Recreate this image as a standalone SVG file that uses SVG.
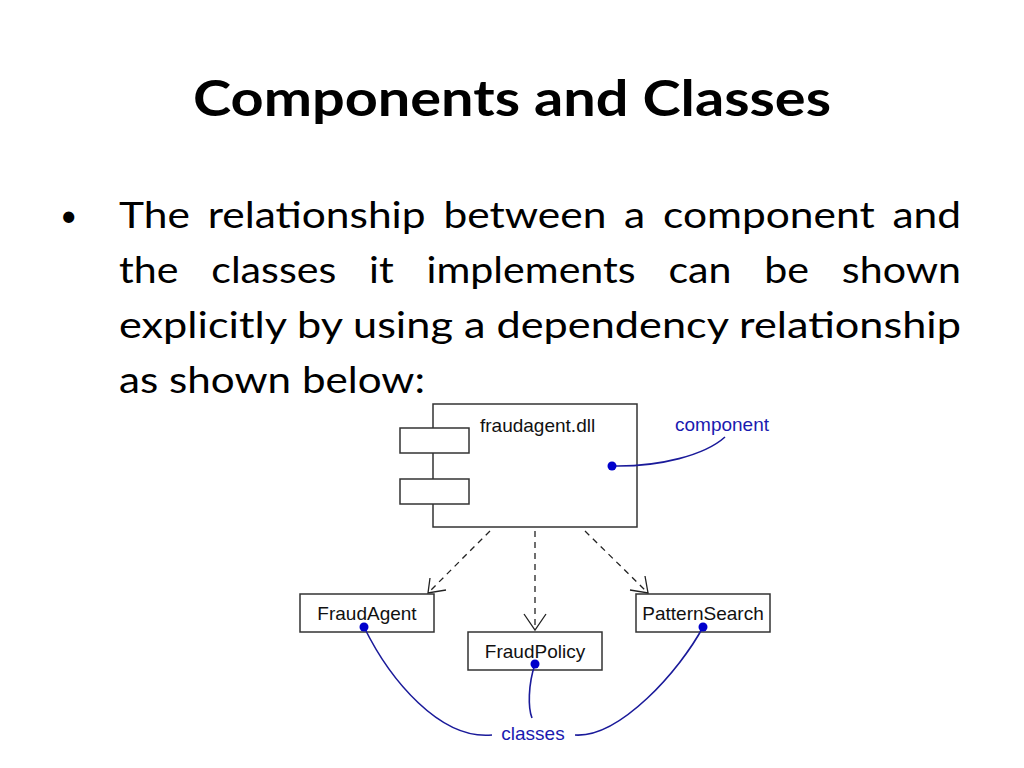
<svg xmlns="http://www.w3.org/2000/svg" width="1024" height="768" viewBox="0 0 1024 768">
<style>
.t{font-family:Lato,"Open Sans","Liberation Sans",sans-serif;fill:#000}
.b{fill:#fff;stroke:#333;stroke-width:1.5}
.n{font-family:"Liberation Sans",Arial,sans-serif;font-size:19px;fill:#111}
.bl{font-family:"Liberation Sans",Arial,sans-serif;font-size:19px;fill:#1a1ab0}
.dep{stroke:#222;stroke-width:1.3;fill:none;stroke-dasharray:6,5}
.ah{stroke:#222;stroke-width:1.3;fill:none}
.c{stroke:#1a1a9a;stroke-width:1.6;fill:none}
.d{fill:#0000cc}
</style>
<rect width="1024" height="768" fill="#fff"/>
<text class="t" x="512" y="116" text-anchor="middle" font-size="50" font-weight="bold" textLength="638" lengthAdjust="spacingAndGlyphs">Components and Classes</text>
<text class="t" x="60" y="226" font-size="30">•</text>
<g class="t" font-size="37">
<text x="119" y="228" textLength="842" lengthAdjust="spacingAndGlyphs" word-spacing="6">The relationship between a component and</text>
<text x="119" y="283" textLength="842" lengthAdjust="spacingAndGlyphs" word-spacing="20">the classes it implements can be shown</text>
<text x="119" y="338" textLength="842" lengthAdjust="spacingAndGlyphs">explicitly by using a dependency relationship</text>
<text x="119" y="393" textLength="306" lengthAdjust="spacingAndGlyphs">as shown below:</text>
</g>
<g id="component">
<rect class="b" x="433" y="404" width="204" height="123"/>
<rect class="b" x="400" y="428" width="69" height="25"/>
<rect class="b" x="400" y="479" width="69" height="25"/>
<text class="n" x="480" y="432">fraudagent.dll</text>
</g>
<g id="FraudAgent"><rect class="b" x="300" y="594" width="134" height="38"/><text class="n" x="367" y="620" text-anchor="middle">FraudAgent</text></g>
<g id="FraudPolicy"><rect class="b" x="468" y="632" width="134" height="38"/><text class="n" x="535" y="658" text-anchor="middle">FraudPolicy</text></g>
<g id="PatternSearch"><rect class="b" x="636" y="594" width="134" height="38"/><text class="n" x="703" y="620" text-anchor="middle">PatternSearch</text></g>
<g id="connectors">
<line class="dep" x1="490" y1="531" x2="428" y2="593"/>
<path class="ah" d="M430 578 L428 593 L446 590"/>
<line class="dep" x1="535" y1="531" x2="535" y2="630"/>
<path class="ah" d="M524 614 L535 630 L546 614"/>
<line class="dep" x1="585" y1="531" x2="648" y2="593"/>
<path class="ah" d="M630 590 L648 593 L645 576"/>
<path class="c" d="M612 466 C660 467 705 455 725 437"/>
<path class="c" d="M364 627 C390 680 440 740 492 735"/>
<path class="c" d="M535 664 C528 685 528 708 532 718"/>
<path class="c" d="M703 627 C680 670 620 738 575 735"/>
<circle class="d" cx="612" cy="466" r="4.5"/>
<circle class="d" cx="364" cy="627" r="4.5"/>
<circle class="d" cx="535" cy="664" r="4.5"/>
<circle class="d" cx="703" cy="627" r="4.5"/>
</g>
<text class="bl" x="675" y="431">component</text>
<text class="bl" x="533" y="740" text-anchor="middle">classes</text>
</svg>
